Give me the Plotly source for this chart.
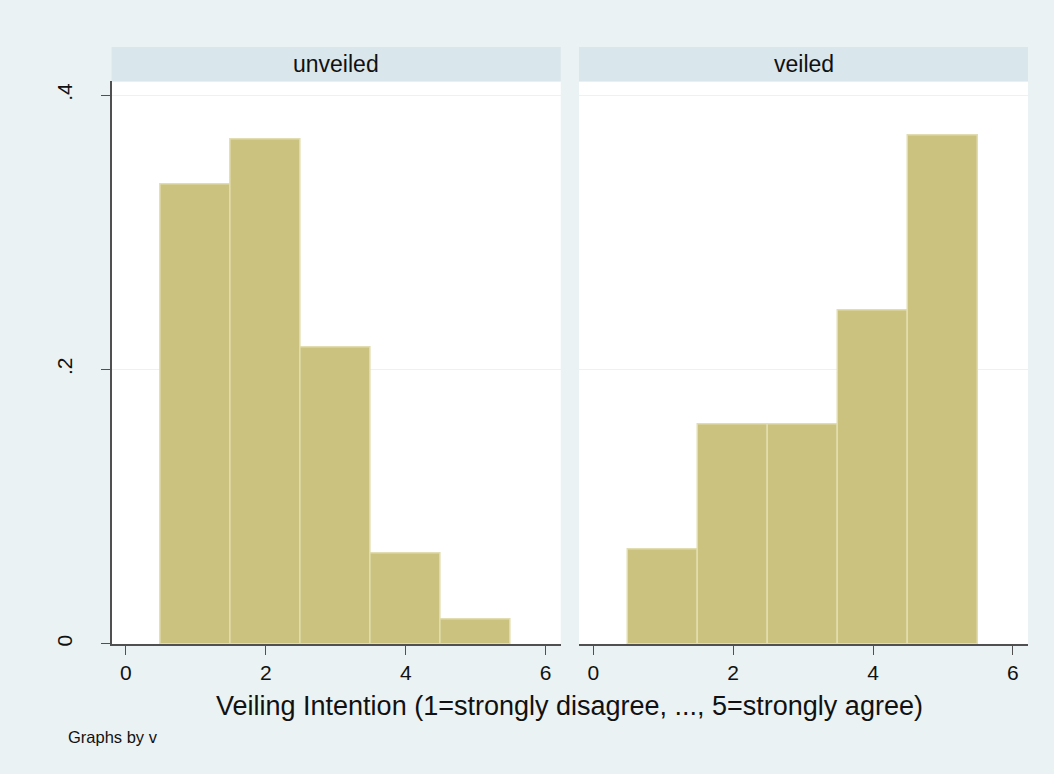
import plotly.graph_objects as go

# Veiling intention scores (1..5) and density per group
categories = [1, 2, 3, 4, 5]
unveiled_density = [0.335, 0.368, 0.216, 0.066, 0.018]
veiled_density = [0.069, 0.160, 0.160, 0.243, 0.371]
panel_titles = ["unveiled", "veiled"]
x_ticks = [0, 2, 4, 6]
y_ticks = [0, 0.2, 0.4]
y_tick_text = ["0", ".2", ".4"]

W, H = 1054, 774
BG = "#EAF2F3"
STRIP = "#D9E6EB"
BAR_FILL = "#CAC27E"
BAR_LINE = "#E2DDB0"
AXIS = "#505050"
FONT = "Liberation Sans, Arial, sans-serif"

# panel geometry in pixels -> paper fractions
left_px = [(111.6, 560.7), (579.0, 1028.0)]
top_px, bottom_px = 81.7, 646.4
strip_top_px = 47.3


def fx(px):
    return px / W


def fy(py):
    return 1 - py / H


fig = go.Figure()

for i, (vals, name) in enumerate(zip([unveiled_density, veiled_density], panel_titles)):
    ax = "" if i == 0 else "2"
    fig.add_trace(go.Bar(
        x=categories, y=vals, width=1.0,
        marker=dict(color=BAR_FILL, line=dict(color=BAR_LINE, width=1.5)),
        xaxis="x" + ax, yaxis="y" + ax, showlegend=False, hoverinfo="x+y",
    ))
    x0, x1 = left_px[i]
    # strip header with panel title
    fig.add_shape(type="rect", xref="paper", yref="paper",
                  x0=fx(x0), x1=fx(x1), y0=fy(top_px), y1=fy(strip_top_px),
                  fillcolor=STRIP, line=dict(width=0), layer="below")
    fig.add_annotation(x=(fx(x0) + fx(x1)) / 2, y=(fy(top_px) + fy(strip_top_px)) / 2,
                       xref="paper", yref="paper", xanchor="center", yanchor="middle",
                       text=name, showarrow=False,
                       font=dict(family=FONT, size=23, color="#111111"))

xaxis_common = dict(
    range=[-0.205, 6.215], tickvals=x_ticks, ticks="outside", ticklen=9,
    tickcolor=AXIS, tickwidth=1.3, showgrid=False, zeroline=False,
    showline=True, linecolor=AXIS, linewidth=1.5,
    tickfont=dict(family=FONT, size=21, color="#111111"),
)
yaxis_common = dict(
    range=[0, 0.41], tickvals=y_ticks, showgrid=True, gridcolor=BG,
    gridwidth=1.2, zeroline=False,
    domain=[fy(bottom_px), fy(top_px)],
)

fig.update_layout(
    width=W, height=H,
    margin=dict(l=0, r=0, t=0, b=0),
    paper_bgcolor=BG, plot_bgcolor="white",
    bargap=0,
    font=dict(family=FONT, color="#111111"),
    xaxis=dict(xaxis_common, domain=[fx(left_px[0][0]), fx(left_px[0][1])], anchor="y"),
    xaxis2=dict(xaxis_common, domain=[fx(left_px[1][0]), fx(left_px[1][1])], anchor="y2"),
    yaxis=dict(yaxis_common, anchor="x", ticktext=y_tick_text, ticks="outside",
               ticklen=9, tickcolor=AXIS, tickwidth=1.3, tickangle=-90,
               showline=True, linecolor=AXIS, linewidth=1.5,
               ticklabelstandoff=20,
               tickfont=dict(family=FONT, size=21, color="#111111")),
    yaxis2=dict(yaxis_common, anchor="x2", showticklabels=False, ticks="",
                showline=False),
)

fig.add_annotation(x=(fx(111.6) + fx(1028.0)) / 2, y=fy(709), xref="paper", yref="paper",
                   xanchor="center", yanchor="middle",
                   text="Veiling Intention (1=strongly disagree, ..., 5=strongly agree)",
                   showarrow=False, font=dict(family=FONT, size=27, color="#111111"))
fig.add_annotation(x=fx(66), y=fy(740), xref="paper", yref="paper",
                   xanchor="left", yanchor="middle",
                   text="Graphs by v", showarrow=False,
                   font=dict(family=FONT, size=16.5, color="#111111"))

fig.write_html("out.html")
